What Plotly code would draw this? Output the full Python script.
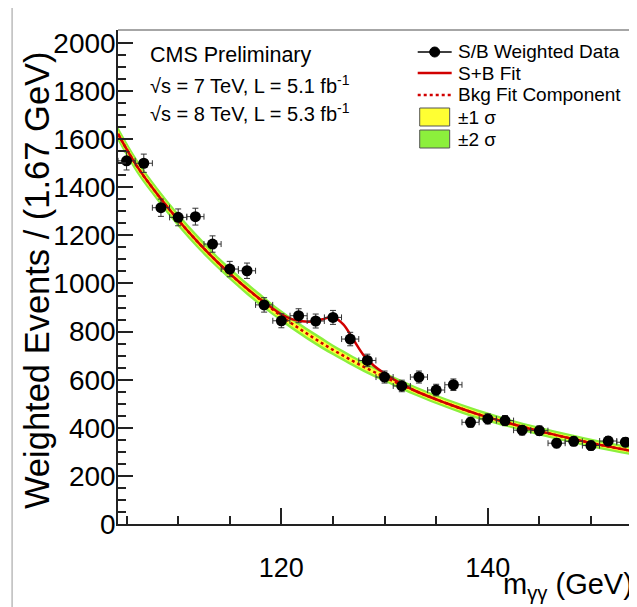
import plotly.graph_objects as go

# data points (bin centres, 1.67 GeV bins)
mass = [105.0, 106.67, 108.33, 110.0, 111.67, 113.33, 115.0, 116.67, 118.33, 120.0,
        121.67, 123.33, 125.0, 126.67, 128.33, 130.0, 131.67, 133.33, 135.0, 136.67,
        138.33, 140.0, 141.67, 143.33, 145.0, 146.67, 148.33, 150.0, 151.67, 153.33]
events = [1510, 1500, 1315, 1275, 1278, 1164, 1060, 1053, 911, 845,
          866, 844, 859, 769, 680, 611, 574, 611, 557, 579,
          423, 437, 430, 390, 388, 336, 344, 326, 345, 340]
events_err = [38, 38, 36, 35, 35, 34, 32, 32, 30, 29,
              29, 29, 29, 28, 26, 25, 24, 25, 24, 24,
              21, 21, 21, 20, 20, 19, 19, 19, 19, 19]
bin_half = 0.83

# fit curves
fit_x = [104.17, 106, 108, 110, 112, 114, 116, 118, 119, 120, 121, 122, 123, 124, 125,
         126, 127, 128, 129, 130, 131, 133, 136, 139, 142, 145, 148, 151, 154.17]
bkg_fit = [1622, 1488, 1370, 1264, 1168, 1081, 1003, 931, 897, 865, 834, 805, 777, 750, 724,
           700, 676, 653, 632, 611, 591, 553, 502, 457, 420, 386, 356, 328, 302]
sb_fit = [1622, 1488, 1370, 1264, 1168, 1081, 1003, 933, 901, 872, 852, 843, 842, 851, 861,
          830, 765, 700, 657, 626, 598, 553, 502, 457, 420, 386, 356, 328, 302]
sigma1 = [15, 15, 14, 14, 14, 13, 13, 13, 12, 12, 12, 12, 12, 12, 11,
          11, 11, 11, 11, 10, 10, 10, 10, 10, 9, 9, 9, 9, 9]

RED = '#d10000'
YELLOW = '#ffff33'
GREEN = '#8cf03c'
FONT = 'Liberation Sans, Arial, Helvetica, sans-serif'

fig = go.Figure()

# +-2 sigma band
fig.add_trace(go.Scatter(x=fit_x, y=[b + 2 * s for b, s in zip(bkg_fit, sigma1)],
                         mode='lines', line=dict(width=0, shape='spline'),
                         showlegend=False, hoverinfo='skip'))
fig.add_trace(go.Scatter(x=fit_x, y=[b - 2 * s for b, s in zip(bkg_fit, sigma1)],
                         mode='lines', line=dict(width=0, shape='spline'),
                         fill='tonexty', fillcolor=GREEN, showlegend=False, hoverinfo='skip'))
# +-1 sigma band
fig.add_trace(go.Scatter(x=fit_x, y=[b + s for b, s in zip(bkg_fit, sigma1)],
                         mode='lines', line=dict(width=0, shape='spline'),
                         showlegend=False, hoverinfo='skip'))
fig.add_trace(go.Scatter(x=fit_x, y=[b - s for b, s in zip(bkg_fit, sigma1)],
                         mode='lines', line=dict(width=0, shape='spline'),
                         fill='tonexty', fillcolor=YELLOW, showlegend=False, hoverinfo='skip'))

# background component and S+B fit
fig.add_trace(go.Scatter(x=fit_x, y=bkg_fit, mode='lines',
                         line=dict(color=RED, width=2.5, dash='dot', shape='spline'),
                         showlegend=False))
fig.add_trace(go.Scatter(x=fit_x, y=sb_fit, mode='lines',
                         line=dict(color=RED, width=2.5, shape='spline'),
                         showlegend=False))

# data
fig.add_trace(go.Scatter(
    x=mass, y=events, mode='markers',
    marker=dict(color='black', size=11),
    error_y=dict(type='data', array=events_err, color='#333', thickness=1, width=3),
    error_x=dict(type='constant', value=bin_half, color='#333', thickness=1, width=3),
    showlegend=False))

# plot area in reference pixels: x 118..634.5, y 30..524
# (the page puts the figure 8 px in from the top-left corner)
def px(x):
    return (x - 118) / 516.5


def py(y):
    return (524 - y) / 494


shapes = []
annotations = []

# frame top/right and outer border line
shapes.append(dict(type='line', xref='paper', yref='paper', x0=0, x1=1, y0=1, y1=1,
                   line=dict(color='#888', width=1.5)))
shapes.append(dict(type='line', xref='paper', yref='paper', x0=1, x1=1, y0=0, y1=1,
                   line=dict(color='#888', width=1.5)))
shapes.append(dict(type='line', xref='paper', yref='paper', x0=px(12), x1=px(12),
                   y0=py(8), y1=py(607), line=dict(color='#bbb', width=1.5)))

# legend
legend_labels = ['S/B Weighted Data', 'S+B Fit', 'Bkg Fit Component', '±1 σ', '±2 σ']
legend_y = [52, 73, 95, 117, 139]
for lab, yy in zip(legend_labels, legend_y):
    annotations.append(dict(xref='paper', yref='paper', x=px(456), y=py(yy), text=lab,
                            showarrow=False, xanchor='left', yanchor='middle',
                            font=dict(size=19, color='black', family=FONT)))
shapes.append(dict(type='line', xref='paper', yref='paper', x0=px(418), x1=px(452),
                   y0=py(52), y1=py(52), line=dict(color='black', width=1.5)))
shapes.append(dict(type='circle', xref='paper', yref='paper', x0=px(430), x1=px(440),
                   y0=py(47), y1=py(57), fillcolor='black', line=dict(color='black', width=1)))
shapes.append(dict(type='line', xref='paper', yref='paper', x0=px(418), x1=px(452),
                   y0=py(73), y1=py(73), line=dict(color=RED, width=2.5)))
shapes.append(dict(type='line', xref='paper', yref='paper', x0=px(418), x1=px(452),
                   y0=py(95), y1=py(95), line=dict(color=RED, width=2.5, dash='dot')))
shapes.append(dict(type='rect', xref='paper', yref='paper', x0=px(420), x1=px(450),
                   y0=py(126), y1=py(108), fillcolor=YELLOW, line=dict(color='#555', width=1)))
shapes.append(dict(type='rect', xref='paper', yref='paper', x0=px(420), x1=px(450),
                   y0=py(148), y1=py(130), fillcolor=GREEN, line=dict(color='#555', width=1)))

# CMS labels
cms_text = ['CMS Preliminary',
            '√s = 7 TeV, L = 5.1 fb<sup>-1</sup>',
            '√s = 8 TeV, L = 5.3 fb<sup>-1</sup>']
cms_y = [55, 84, 113]
cms_size = [21.5, 20, 20]
for t, yy, sz in zip(cms_text, cms_y, cms_size):
    annotations.append(dict(xref='paper', yref='paper', x=px(148), y=py(yy), text=t,
                            showarrow=False, xanchor='left', yanchor='middle',
                            font=dict(size=sz, color='black', family=FONT)))

# axis titles
annotations.append(dict(xref='paper', yref='paper', x=px(37), y=py(280),
                        text='Weighted Events / (1.67 GeV)', textangle=-90,
                        showarrow=False, xanchor='center', yanchor='middle',
                        font=dict(size=34.5, color='black', family=FONT)))
annotations.append(dict(xref='paper', yref='paper', x=px(636), y=py(586),
                        text='m<sub>γγ</sub> (GeV)',
                        showarrow=False, xanchor='right', yanchor='middle',
                        font=dict(size=29, color='black', family=FONT)))

fig.update_layout(
    width=629, height=599,
    margin=dict(l=110, r=2.5, t=22, b=83, autoexpand=False),
    paper_bgcolor='white', plot_bgcolor='white',
    font=dict(family=FONT, color='black'),
    shapes=shapes, annotations=annotations,
    showlegend=False,
)
fig.update_xaxes(range=[104.17, 154.17], tick0=100, dtick=20, ticks='inside', ticklen=16,
                 tickwidth=1.5, tickcolor='#222', showline=True, linecolor='#222', linewidth=1.5,
                 showgrid=False, zeroline=False, tickfont=dict(size=27), ticklabelstandoff=19,
                 automargin=False,
                 minor=dict(dtick=5, ticks='inside', ticklen=8, tickcolor='#222', showgrid=False))
fig.update_yaxes(range=[0, 2054], dtick=200, ticks='inside', ticklen=15,
                 tickwidth=1.5, tickcolor='#222', showline=True, linecolor='#222', linewidth=1.5,
                 showgrid=False, zeroline=False, tickfont=dict(size=28), ticklabelstandoff=-5,
                 automargin=False,
                 minor=dict(dtick=50, ticks='inside', ticklen=8, tickcolor='#222', showgrid=False))

fig.write_html("out.html")
